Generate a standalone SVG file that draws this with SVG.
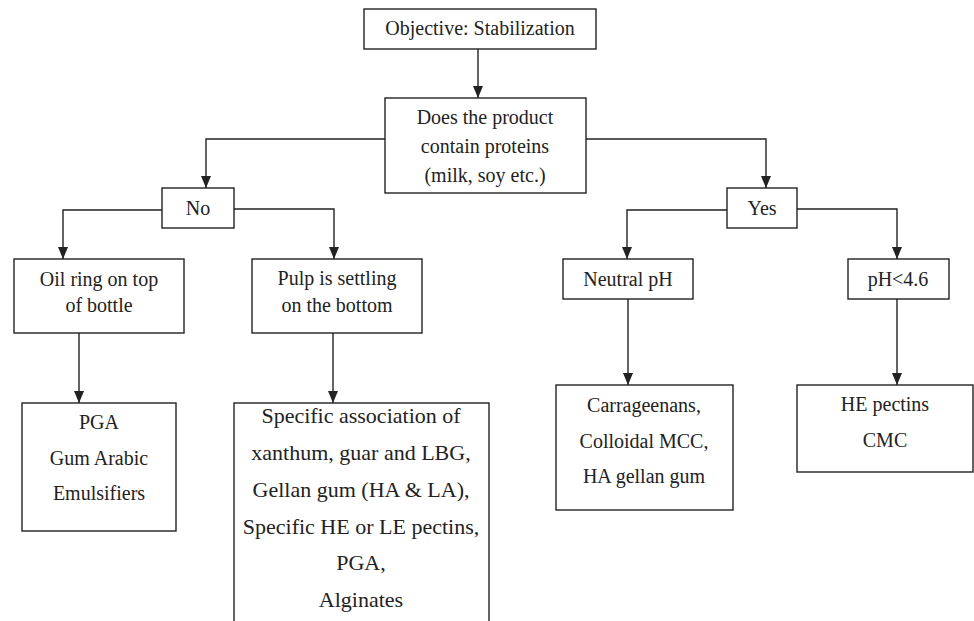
<svg xmlns="http://www.w3.org/2000/svg" width="974" height="621" viewBox="0 0 974 621" font-family="'Liberation Serif', 'Times New Roman', serif">
<style>
rect{fill:#fff;stroke:#222;stroke-width:1.4}
text{font-family:"Liberation Serif","Times New Roman",serif;font-size:20px;fill:#222;text-anchor:middle}
.big{font-size:22px}
.c{fill:none;stroke:#222;stroke-width:1.4;marker-end:url(#ah)}
</style>
<defs>
<marker id="ah" viewBox="0 0 12 10" markerUnits="userSpaceOnUse" markerWidth="12" markerHeight="10" refX="12" refY="5" orient="auto">
<path d="M0,0 L12,5 L0,10 z" fill="#222"/>
</marker>
</defs>
<rect x="0" y="0" width="974" height="621" style="fill:#fff;stroke:none"/>
<g id="connectors">
<path class="c" d="M478,49 V98"/>
<path class="c" d="M385,139 H206 V188"/>
<path class="c" d="M586,139 H766 V188"/>
<path class="c" d="M162,210 H63 V259"/>
<path class="c" d="M234,209 H334 V259"/>
<path class="c" d="M727,210 H627 V259"/>
<path class="c" d="M797,209 H897 V259"/>
<path class="c" d="M79,333 V403"/>
<path class="c" d="M333,333 V403"/>
<path class="c" d="M628,299 V385"/>
<path class="c" d="M897,299 V385"/>
</g>
<g id="objective">
<rect x="364" y="9" width="232" height="40"/>
<text x="480" y="35">Objective: Stabilization</text>
</g>
<g id="question">
<rect x="385" y="98" width="201" height="95"/>
<text x="485" y="124">Does the product</text>
<text x="485" y="153">contain proteins</text>
<text x="485" y="182">(milk, soy etc.)</text>
</g>
<g id="no">
<rect x="162" y="188" width="72" height="40"/>
<text x="198" y="215">No</text>
</g>
<g id="yes">
<rect x="727" y="188" width="70" height="40"/>
<text x="762" y="215">Yes</text>
</g>
<g id="oil-ring">
<rect x="14" y="259" width="170" height="74"/>
<text x="99" y="286">Oil ring on top</text>
<text x="99" y="312">of bottle</text>
</g>
<g id="pulp">
<rect x="252" y="259" width="170" height="74"/>
<text x="337" y="285">Pulp is settling</text>
<text x="337" y="312">on the bottom</text>
</g>
<g id="neutral-ph">
<rect x="563" y="259" width="130" height="40"/>
<text x="628" y="286">Neutral pH</text>
</g>
<g id="acid-ph">
<rect x="848" y="259" width="101" height="40"/>
<text x="898" y="286">pH&lt;4.6</text>
</g>
<g id="pga-box">
<rect x="22" y="403" width="154" height="128"/>
<text x="99" y="429">PGA</text>
<text x="99" y="465">Gum Arabic</text>
<text x="99" y="500">Emulsifiers</text>
</g>
<g id="specific-box">
<rect x="234" y="403" width="255" height="240"/>
<text class="big" x="361" y="423">Specific association of</text>
<text class="big" x="361" y="460">xanthum, guar and LBG,</text>
<text class="big" x="361" y="497">Gellan gum (HA &amp; LA),</text>
<text class="big" x="361" y="534">Specific HE or LE pectins,</text>
<text class="big" x="361" y="570">PGA,</text>
<text class="big" x="361" y="607">Alginates</text>
</g>
<g id="carrageenans-box">
<rect x="556" y="385" width="177" height="125"/>
<text x="644" y="412">Carrageenans,</text>
<text x="644" y="448">Colloidal MCC,</text>
<text x="644" y="483">HA gellan gum</text>
</g>
<g id="he-box">
<rect x="797" y="385" width="176" height="87"/>
<text x="885" y="411">HE pectins</text>
<text x="885" y="447">CMC</text>
</g>
</svg>
